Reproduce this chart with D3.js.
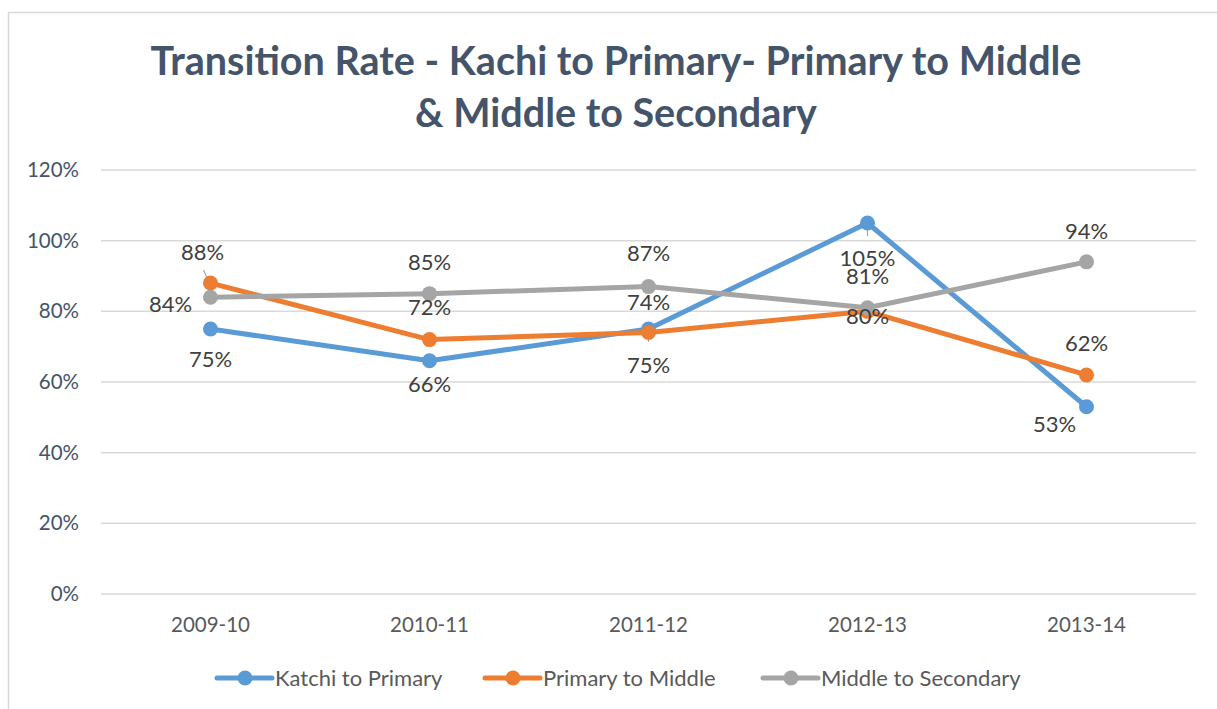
<!DOCTYPE html>
<html>
<head>
<meta charset="utf-8">
<script src="https://cdn.jsdelivr.net/npm/d3@7"></script>
<style>
  body { margin: 0; background: #fff; }
  svg { font-family: Lato, "Open Sans", sans-serif; }
</style>
</head>
<body>
<svg id="chart" width="1217" height="709"></svg>
<script>
// chart values
var years = ["2009-10", "2010-11", "2011-12", "2012-13", "2013-14"];
var seriesNames = ["Katchi to Primary", "Primary to Middle", "Middle to Secondary"];
var katchiToPrimary = [75, 66, 75, 105, 53];
var primaryToMiddle = [88, 72, 74, 80, 62];
var middleToSecondary = [84, 85, 87, 81, 94];
var yTicks = [0, 20, 40, 60, 80, 100, 120];

var colors = ["#5B9BD5", "#ED7D31", "#A5A5A5"];

// label offsets [dx, dy] per point (Excel put them wherever it liked)
var labelOffsets = [
  [[0, 30], [0, 23], [0, 36], [0, 35], [-32, 18]],
  [[-8, -31], [0, -32], [0, -30], [0, 5], [0, -32]],
  [[-40, 7], [0, -31], [0, -33], [0, -32], [0, -31]]
];

drawLines();

function drawLines(){
  var svg = d3.select("#chart"),
  margin = {top: 170, right: 21, bottom: 115, left: 101},
  width = +svg.attr("width") - margin.left - margin.right,
  height = +svg.attr("height") - margin.top - margin.bottom;

  // outer border
  svg.append("rect")
  .attr("x", 8.5).attr("y", 12.5)
  .attr("width", 1230).attr("height", 720)
  .attr("fill", "none")
  .attr("stroke", "#d9d9d9")
  .attr("stroke-width", 1.5);

  // title
  var title = svg.append("text")
  .attr("text-anchor", "middle")
  .attr("fill", "#44546A")
  .attr("font-weight", "bold")
  .attr("font-size", 39.5);
  title.append("tspan").attr("x", 616).attr("y", 75).text("Transition Rate - Kachi to Primary- Primary to Middle");
  title.append("tspan").attr("x", 616).attr("y", 127).text("& Middle to Secondary");

  var g = svg.append("g").attr("transform", "translate(" + margin.left + "," + margin.top + ")");

  var x = d3.scaleBand().domain(years).range([0, width]);
  var y = d3.scaleLinear().domain([0, 120]).range([height, 0]);

  // gridlines
  g.append("g")
  .selectAll("line")
  .data(yTicks)
  .enter().append("line")
  .attr("x1", 0).attr("x2", width)
  .attr("y1", function(d) { return y(d); })
  .attr("y2", function(d) { return y(d); })
  .attr("stroke", "#d9d9d9")
  .attr("stroke-width", 1.5);

  // y axis
  var yAxis = g.append("g")
  .call(d3.axisLeft(y).tickValues(yTicks).tickSize(0).tickPadding(22).tickFormat(function(d) { return d + "%"; }));
  yAxis.select(".domain").remove();
  yAxis.selectAll("text")
  .attr("fill", "#44546A")
  .attr("font-size", 20.5)
  .attr("font-family", "Lato, sans-serif");

  // x axis
  var xAxis = g.append("g")
  .attr("transform", "translate(0," + height + ")")
  .call(d3.axisBottom(x).tickSize(0).tickPadding(23));
  xAxis.select(".domain").remove();
  xAxis.selectAll("text")
  .attr("fill", "#595959")
  .attr("font-size", 20.5)
  .attr("font-family", "Lato, sans-serif");

  var data = [katchiToPrimary, primaryToMiddle, middleToSecondary];
  var cx = function(i) { return x(years[i]) + x.bandwidth() / 2; };

  var line = d3.line()
  .x(function(d, i) { return cx(i); })
  .y(function(d) { return y(d); });

  // leader lines
  var leaders = [[1, 0], [0, 2], [0, 3]];
  leaders.forEach(function(l) {
    var s = l[0], i = l[1], v = data[s][i];
    var px = cx(i), py = y(v);
    var x2 = px, y2 = py + 13, y1 = py + 1;
    var x1 = px;
    if (s == 1) { x1 = px - 2; y1 = py - 2; x2 = px - 7; y2 = py - 13; }
    g.append("line")
    .attr("x1", x1).attr("y1", y1).attr("x2", x2).attr("y2", y2)
    .attr("stroke", "#A5A5A5").attr("stroke-width", 1.2);
  });

  data.forEach(function(vals, s) {
    g.append("path")
    .datum(vals)
    .attr("d", line)
    .attr("fill", "none")
    .attr("stroke", colors[s])
    .attr("stroke-width", 5)
    .attr("stroke-linejoin", "round")
    .attr("stroke-linecap", "round");

    g.append("g")
    .selectAll("circle")
    .data(vals)
    .enter().append("circle")
    .attr("cx", function(d, i) { return cx(i); })
    .attr("cy", function(d) { return y(d); })
    .attr("r", 7.5)
    .attr("fill", colors[s]);
  });

  // data labels
  data.forEach(function(vals, s) {
    g.append("g")
    .selectAll("text")
    .data(vals)
    .enter().append("text")
    .attr("x", function(d, i) { return cx(i) + labelOffsets[s][i][0]; })
    .attr("y", function(d, i) { return y(d) + labelOffsets[s][i][1]; })
    .attr("dy", "0.35em")
    .attr("text-anchor", "middle")
    .attr("fill", "#404040")
    .attr("font-size", 22)
    .text(function(d) { return d + "%"; });
  });

  // legend
  var legendX = [217, 485, 763];
  var legend = svg.append("g")
  .selectAll("g")
  .data(seriesNames)
  .enter().append("g")
  .attr("transform", function(d, i) { return "translate(" + legendX[i] + ",678)"; });

  legend.append("line")
  .attr("x1", 0).attr("x2", 55)
  .attr("stroke", function(d, i) { return colors[i]; })
  .attr("stroke-width", 5)
  .attr("stroke-linecap", "round");

  legend.append("circle")
  .attr("cx", 28).attr("r", 7.5)
  .attr("fill", function(d, i) { return colors[i]; });

  legend.append("text")
  .attr("x", 58)
  .attr("dy", "0.35em")
  .attr("fill", "#595959")
  .attr("font-size", 22)
  .text(function(d) { return d; });
}
</script>
</body>
</html>
